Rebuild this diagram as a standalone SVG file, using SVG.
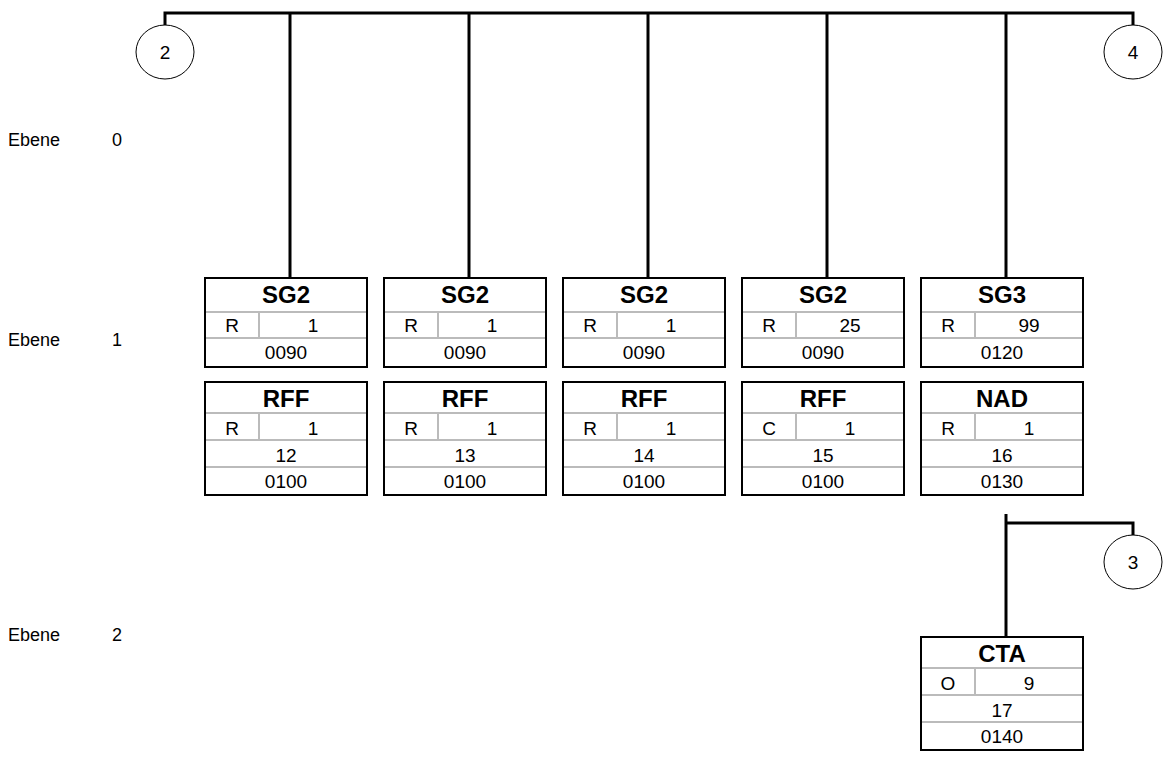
<svg xmlns="http://www.w3.org/2000/svg" width="1168" height="765" viewBox="0 0 1168 765">
<style>
text{font-family:"Liberation Sans",Arial,sans-serif;fill:#000}
.lbl{font-size:18px}
.t{font-size:24px;font-weight:bold;text-anchor:middle}
.v{font-size:19px;text-anchor:middle}
.box{fill:#fff;stroke:#000;stroke-width:2}
.div{stroke:#bbb;stroke-width:2}
.conn{stroke:#000;stroke-width:3;fill:none}
.circ{fill:#fff;stroke:#000;stroke-width:1}
</style>
<defs>
<g id="sg">
<rect class="box" x="0" y="0" width="162" height="89"/>
<line class="div" x1="1" y1="34" x2="161" y2="34"/>
<line class="div" x1="1" y1="60" x2="161" y2="60"/>
<line class="div" x1="54" y1="34" x2="54" y2="60"/>
</g>
<g id="seg">
<rect class="box" x="0" y="0" width="162" height="113"/>
<line class="div" x1="1" y1="31" x2="161" y2="31"/>
<line class="div" x1="1" y1="58" x2="161" y2="58"/>
<line class="div" x1="1" y1="85" x2="161" y2="85"/>
<line class="div" x1="54" y1="31" x2="54" y2="58"/>
</g>
</defs>

<g id="levels">
<text class="lbl" x="8" y="146">Ebene</text><text class="lbl" x="112" y="146">0</text>
<text class="lbl" x="8" y="346">Ebene</text><text class="lbl" x="112" y="346">1</text>
<text class="lbl" x="8" y="641">Ebene</text><text class="lbl" x="112" y="641">2</text>
</g>

<g id="connectors">
<polyline class="conn" points="165,25 165,13 1133,13 1133,25"/>
<line class="conn" x1="290" y1="13" x2="290" y2="278"/>
<line class="conn" x1="469" y1="13" x2="469" y2="278"/>
<line class="conn" x1="648" y1="13" x2="648" y2="278"/>
<line class="conn" x1="827" y1="13" x2="827" y2="278"/>
<line class="conn" x1="1006" y1="13" x2="1006" y2="278"/>
<line class="conn" x1="1006" y1="514" x2="1006" y2="637"/>
<polyline class="conn" points="1006,523 1133,523 1133,535"/>
</g>

<g id="c2"><ellipse class="circ" cx="165" cy="52" rx="29" ry="27"/><text class="v" x="165" y="59">2</text></g>
<g id="c4"><ellipse class="circ" cx="1133" cy="52" rx="29" ry="27"/><text class="v" x="1133" y="59">4</text></g>
<g id="c3"><ellipse class="circ" cx="1133" cy="562" rx="29" ry="27"/><text class="v" x="1133" y="569">3</text></g>

<g id="sg2a" transform="translate(205,278)"><use href="#sg"/><text class="t" x="81" y="25">SG2</text><text class="v" x="27" y="54">R</text><text class="v" x="108" y="54">1</text><text class="v" x="81" y="81">0090</text></g>
<g id="sg2b" transform="translate(384,278)"><use href="#sg"/><text class="t" x="81" y="25">SG2</text><text class="v" x="27" y="54">R</text><text class="v" x="108" y="54">1</text><text class="v" x="81" y="81">0090</text></g>
<g id="sg2c" transform="translate(563,278)"><use href="#sg"/><text class="t" x="81" y="25">SG2</text><text class="v" x="27" y="54">R</text><text class="v" x="108" y="54">1</text><text class="v" x="81" y="81">0090</text></g>
<g id="sg2d" transform="translate(742,278)"><use href="#sg"/><text class="t" x="81" y="25">SG2</text><text class="v" x="27" y="54">R</text><text class="v" x="108" y="54">25</text><text class="v" x="81" y="81">0090</text></g>
<g id="sg3" transform="translate(921,278)"><use href="#sg"/><text class="t" x="81" y="25">SG3</text><text class="v" x="27" y="54">R</text><text class="v" x="108" y="54">99</text><text class="v" x="81" y="81">0120</text></g>

<g id="rff12" transform="translate(205,382)"><use href="#seg"/><text class="t" x="81" y="25">RFF</text><text class="v" x="27" y="53">R</text><text class="v" x="108" y="53">1</text><text class="v" x="81" y="80">12</text><text class="v" x="81" y="106">0100</text></g>
<g id="rff13" transform="translate(384,382)"><use href="#seg"/><text class="t" x="81" y="25">RFF</text><text class="v" x="27" y="53">R</text><text class="v" x="108" y="53">1</text><text class="v" x="81" y="80">13</text><text class="v" x="81" y="106">0100</text></g>
<g id="rff14" transform="translate(563,382)"><use href="#seg"/><text class="t" x="81" y="25">RFF</text><text class="v" x="27" y="53">R</text><text class="v" x="108" y="53">1</text><text class="v" x="81" y="80">14</text><text class="v" x="81" y="106">0100</text></g>
<g id="rff15" transform="translate(742,382)"><use href="#seg"/><text class="t" x="81" y="25">RFF</text><text class="v" x="27" y="53">C</text><text class="v" x="108" y="53">1</text><text class="v" x="81" y="80">15</text><text class="v" x="81" y="106">0100</text></g>
<g id="nad16" transform="translate(921,382)"><use href="#seg"/><text class="t" x="81" y="25">NAD</text><text class="v" x="27" y="53">R</text><text class="v" x="108" y="53">1</text><text class="v" x="81" y="80">16</text><text class="v" x="81" y="106">0130</text></g>
<g id="cta17" transform="translate(921,637)"><use href="#seg"/><text class="t" x="81" y="25">CTA</text><text class="v" x="27" y="53">O</text><text class="v" x="108" y="53">9</text><text class="v" x="81" y="80">17</text><text class="v" x="81" y="106">0140</text></g>
</svg>
